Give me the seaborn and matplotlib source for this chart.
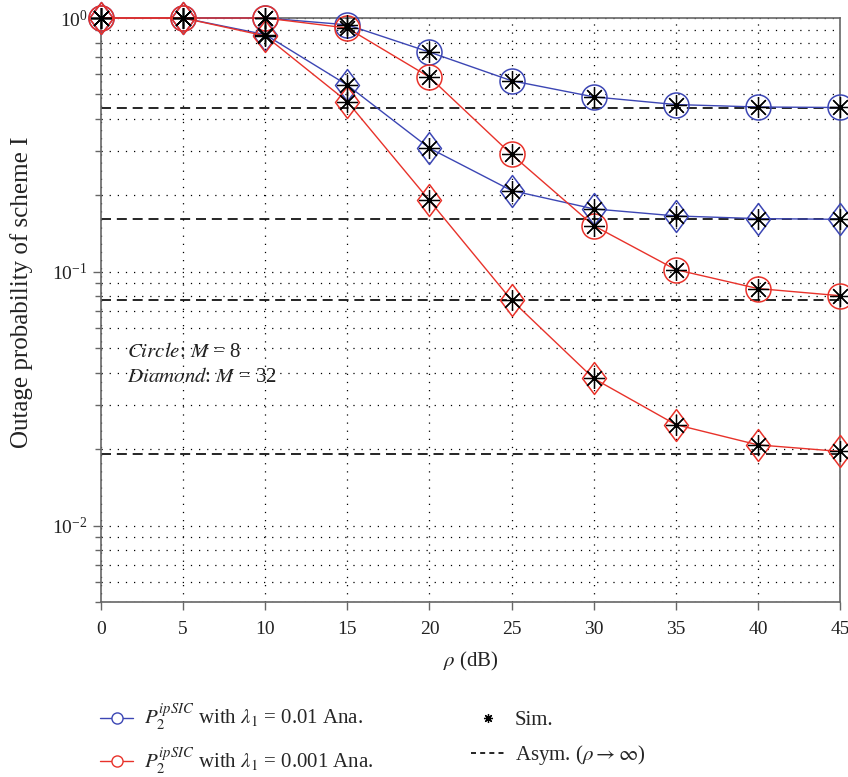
import numpy as np
import matplotlib
matplotlib.use("Agg")
import matplotlib.pyplot as plt
from matplotlib.lines import Line2D
from matplotlib.path import Path
from matplotlib.ticker import LogLocator, NullFormatter
import seaborn as sns

# ---------------- data ----------------
rho = [0, 5, 10, 15, 20, 25, 30, 35, 40, 45]

# lambda_1 = 0.01
blue_m8 = [1.0, 1.0, 1.0, 0.94, 0.734, 0.566, 0.489, 0.456, 0.446, 0.444]
blue_m32 = [1.0, 1.0, 0.86, 0.544, 0.307, 0.209, 0.177, 0.166, 0.162, 0.161]
# lambda_1 = 0.001
red_m8 = [1.0, 1.0, 1.0, 0.913, 0.585, 0.29, 0.152, 0.102, 0.0859, 0.0805]
red_m32 = [1.0, 1.0, 0.85, 0.468, 0.191, 0.0773, 0.038, 0.025, 0.0208, 0.0196]

# asymptotes (rho -> inf)
asym_levels = [0.443, 0.161, 0.0776, 0.0191]

x_ticks = [0, 5, 10, 15, 20, 25, 30, 35, 40, 45]

BLUE = "#3c46b4"
RED = "#e8322a"

# ---------------- style ----------------
sns.set_style("white")
plt.rcParams["font.family"] = ["Liberation Serif", "DejaVu Serif"]
plt.rcParams["mathtext.fontset"] = "stix"
plt.rcParams["axes.edgecolor"] = "#666666"
plt.rcParams["xtick.color"] = "#666666"
plt.rcParams["ytick.color"] = "#666666"
plt.rcParams["xtick.labelcolor"] = "#222222"
plt.rcParams["ytick.labelcolor"] = "#222222"

# diamond marker, a bit narrower than tall
diamond = Path([(0, 1), (0.75, 0), (0, -1), (-0.75, 0), (0, 1)],
               [Path.MOVETO, Path.LINETO, Path.LINETO, Path.LINETO, Path.CLOSEPOLY])
asterisk = (8, 2, 0)

fig = plt.figure(figsize=(8.48, 7.77), dpi=100)
ax = fig.add_axes([101 / 848, 1 - 602 / 777, 739 / 848, 584 / 777])

ax.set_yscale("log")
ax.set_xlim(0, 45)
ax.set_ylim(0.005, 1.0)

# grid
grid_kw = dict(color="black", linestyle=(0, (1, 5.5)), linewidth=0.9)
ax.grid(True, which="major", axis="x", **grid_kw)
ax.grid(True, which="both", axis="y", **grid_kw)
ax.set_axisbelow(True)

# asymptotes
for lv in asym_levels:
    ax.axhline(lv, color="black", linestyle=(0, (6, 3.5)), linewidth=1.2, zorder=2)

# analytical curves
curves = [
    (blue_m8, BLUE, "o", 18),
    (blue_m32, BLUE, diamond, 23),
    (red_m8, RED, "o", 18),
    (red_m32, RED, diamond, 23),
]
for vals, col, mk, ms in curves:
    sns.lineplot(x=rho, y=vals, ax=ax, color=col, linewidth=1.0, marker=mk,
                 markersize=ms, markerfacecolor="none", markeredgecolor=col,
                 markeredgewidth=1.1, clip_on=False, legend=False, zorder=3)

# simulation points
for vals, _, _, _ in curves:
    ax.plot(rho, vals, linestyle="none", marker=asterisk, markersize=15,
            color="black", markeredgewidth=0.9, clip_on=False, zorder=4)

ax.set_xticks(x_ticks)
ax.yaxis.set_major_locator(LogLocator(base=10))
ax.yaxis.set_minor_locator(LogLocator(base=10, subs=np.arange(2, 10)))
ax.yaxis.set_minor_formatter(NullFormatter())
ax.tick_params(axis="both", which="both", bottom=True, left=True,
               top=False, right=False)
ax.tick_params(axis="both", which="major", direction="out", length=6, width=1,
               labelsize=14)
ax.tick_params(axis="y", which="minor", direction="out", length=4, width=1)
ax.tick_params(axis="x", pad=8)
for sp in ax.spines.values():
    sp.set_linewidth(1.2)

ax.set_xlabel(r"$\rho$ (dB)", fontsize=15, color="#222222", labelpad=8)
ax.set_ylabel("Outage probability of scheme I", fontsize=18, color="#222222")
ax.yaxis.set_label_coords(-0.092, 0.53)

ax.text(0.035, 0.427, r"$\it{Circle}$: $M$ = 8", transform=ax.transAxes,
        fontsize=15, va="center", ha="left", color="#222222")
ax.text(0.035, 0.384, r"$\it{Diamond}$: $M$ = 32", transform=ax.transAxes,
        fontsize=15, va="center", ha="left", color="#222222")

# legend
handles = [
    Line2D([], [], color=BLUE, lw=1.0, marker="o", ms=8, mfc="white", mec=BLUE),
    Line2D([], [], color=RED, lw=1.0, marker="o", ms=8, mfc="white", mec=RED),
    Line2D([], [], color="black", ls="none", marker=asterisk, ms=6.5, mew=0.9),
    Line2D([], [], color="black", lw=1.2, ls=(0, (3, 2.5))),
]
labels = [
    r"$P_2^{ipSIC}$ with $\lambda_1$ = 0.01 Ana.",
    r"$P_2^{ipSIC}$ with $\lambda_1$ = 0.001 Ana.",
    "Sim.",
    r"Asym. ($\rho \rightarrow \infty$)",
]
fig.legend(handles, labels, ncol=2, loc="upper left",
           bbox_to_anchor=(100 / 848, 1 - 703 / 777), frameon=False,
           fontsize=15, handlelength=1.6, handletextpad=0.5,
           columnspacing=4.7, labelspacing=0.65, borderpad=0, borderaxespad=0)

fig.savefig("out.png", dpi=100)
